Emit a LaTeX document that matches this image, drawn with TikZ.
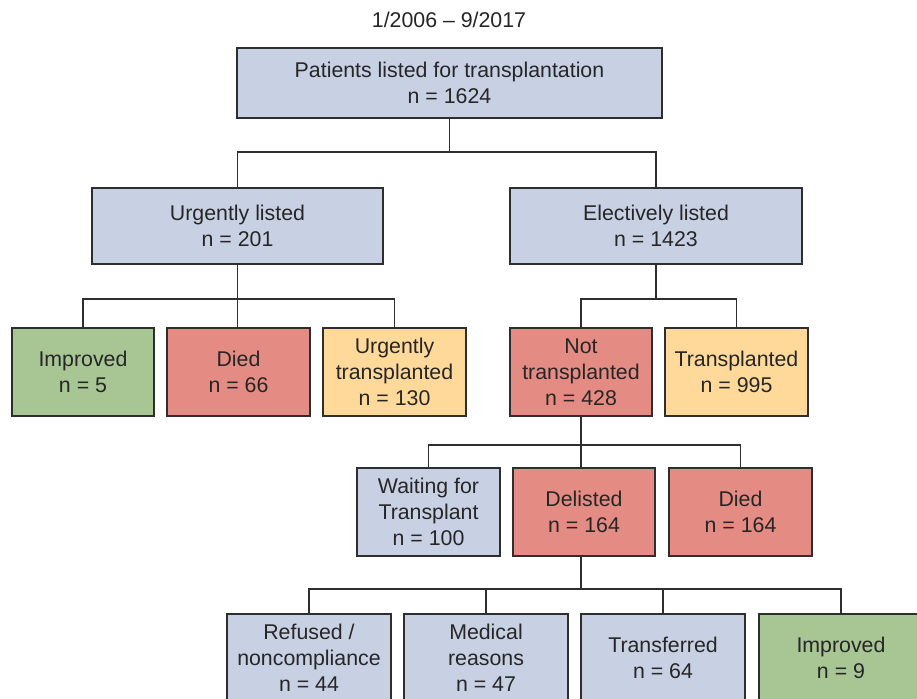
\documentclass[tikz,border=0pt]{standalone}
\usepackage{fontspec}
\setmainfont{Liberation Sans}
\usepackage{tikz}

\definecolor{boxblue}{HTML}{C8D1E3}
\definecolor{boxgreen}{HTML}{A8C594}
\definecolor{boxred}{HTML}{E48B84}
\definecolor{boxyellow}{HTML}{FED99A}
\definecolor{edgegray}{HTML}{2E2E2E}

\tikzset{
  flowbox/.style={draw=edgegray, line width=1.3pt, inner sep=0pt, align=center,
    font=\fontsize{16}{19.5}\selectfont, text=black!85},
  smallbox/.style={flowbox, minimum width=107pt, minimum height=66pt},
  widebox/.style={flowbox, minimum width=123pt, minimum height=66pt},
  link/.style={draw=edgegray, line width=1pt}
}

\begin{document}
\begin{tikzpicture}[x=0.75pt,y=0.75pt,yscale=-1,xscale=1]
\clip (0,0) rectangle (917,699);
\fill[white] (0,0) rectangle (917,699);

% Text Node
\draw (449,20) node [font=\fontsize{16}{19}\selectfont, text=black!85] (period) {1/2006 -- 9/2017};
% Text Node
\node [flowbox, fill=boxblue, minimum width=318.75pt, minimum height=52.5pt] (listed) at (449.5,83) {Patients listed for transplantation\\n = 1624};
% Text Node
\node [flowbox, fill=boxblue, minimum width=218.25pt, minimum height=57pt] (urgent) at (237.5,226) {Urgently listed\\n = 201};
% Text Node
\node [flowbox, fill=boxblue, minimum width=219pt, minimum height=57pt] (elective) at (656,226) {Electively listed\\n = 1423};
% Text Node
\node [smallbox, fill=boxgreen] (improvedA) at (83,372) {Improved\\n = 5};
% Text Node
\node [smallbox, fill=boxred] (diedA) at (238.5,372) {Died\\n = 66};
% Text Node
\node [smallbox, fill=boxyellow] (urgtx) at (394.5,372) {Urgently\\transplanted\\n = 130};
% Text Node
\node [smallbox, fill=boxred] (nottx) at (581,372) {Not\\transplanted\\n = 428};
% Text Node
\node [smallbox, fill=boxyellow] (tx) at (736.5,372) {Transplanted\\n = 995};
% Text Node
\node [smallbox, fill=boxblue] (waiting) at (428.5,512) {Waiting for\\Transplant\\n = 100};
% Text Node
\node [smallbox, fill=boxred] (delisted) at (584,512) {Delisted\\n = 164};
% Text Node
\node [smallbox, fill=boxred] (diedB) at (740.5,512) {Died\\n = 164};
% Text Node
\node [widebox, fill=boxblue] (refused) at (309,658) {Refused /\\noncompliance\\n = 44};
% Text Node
\node [widebox, fill=boxblue] (medical) at (486,658) {Medical\\reasons\\n = 47};
% Text Node
\node [widebox, fill=boxblue] (transf) at (663,658) {Transferred\\n = 64};
% Text Node
\node [widebox, fill=boxgreen] (improvedB) at (841,658) {Improved\\n = 9};

% Connection
\draw [link] (listed.south) -- ++(0,33) coordinate (j1);
\draw [link] (urgent.north) |- (j1) -| (elective.north);
% Connection
\draw [link] (urgent.south) -- ++(0,34) coordinate (j2);
\draw [link] (improvedA.north) |- (j2) -| (urgtx.north);
\draw [link] (j2) -- (j2 |- diedA.north);
% Connection
\draw [link] (elective.south) -- ++(0,34) coordinate (j3);
\draw [link] (nottx.north) |- (j3) -| (tx.north);
% Connection
\draw [link] (nottx.south) -- ++(0,28) coordinate (j4);
\draw [link] (waiting.north) |- (j4) -| (diedB.north);
\draw [link] (j4) -- (j4 |- delisted.north);
% Connection
\draw [link] (delisted.south -| j4) -- ++(0,32) coordinate (j5);
\draw [link] (refused.north) |- (j5) -| (improvedB.north);
\draw [link] (medical.north) -- (medical.north |- j5);
\draw [link] (transf.north) -- (transf.north |- j5);

\end{tikzpicture}
\end{document}
